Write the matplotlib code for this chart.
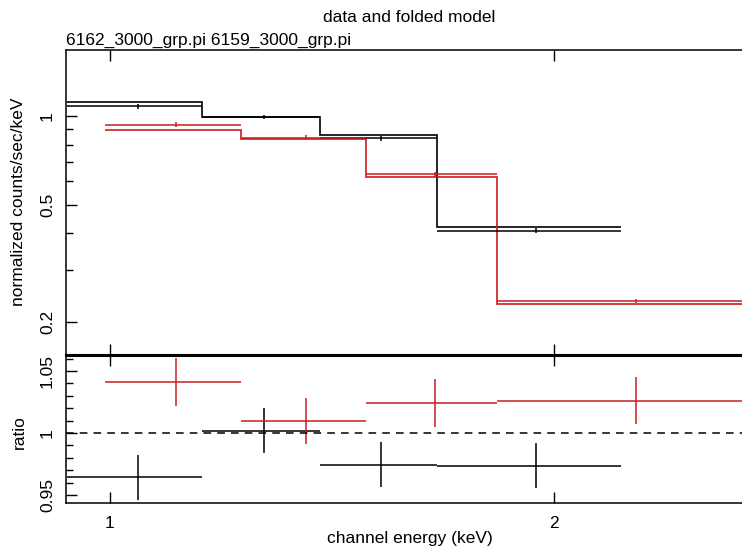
import numpy as np
import matplotlib
matplotlib.use("Agg")
import matplotlib.pyplot as plt
from matplotlib.ticker import FixedLocator, NullLocator, LogLocator, MultipleLocator, NullFormatter

plt.rcParams['font.family'] = ['Liberation Sans', 'DejaVu Sans']
plt.rcParams['font.size'] = 12.5

# bin edges (keV), model and data (counts/sec/keV), ratio errors
black_edges = [0.935, 1.154, 1.389, 1.665, 2.222]
black_model = [1.118, 0.990, 0.862, 0.419]
black_data = [1.078, 0.992, 0.840, 0.408]
black_rerr = [0.018, 0.0185, 0.018, 0.018]

red_edges = [0.992, 1.227, 1.491, 1.829, 2.717]
red_model = [0.898, 0.837, 0.619, 0.229]
red_data = [0.935, 0.845, 0.634, 0.235]
red_rerr = [0.019, 0.0185, 0.019, 0.019]

x_ticks = [1, 2]
top_yticks = [0.2, 0.5, 1]
top_ylabels = ['0.2', '0.5', '1']
rat_yticks = [0.95, 1.0, 1.05]
rat_ylabels = ['0.95', '1', '1.05']

RED = '#c81e1e'
W, H = 742, 549
fig = plt.figure(figsize=(W / 100, H / 100), dpi=100)

left, right = 66, 752
ax1 = fig.add_axes([left / W, (H - 355) / H, (right - left) / W, (355 - 50) / H])
ax2 = fig.add_axes([left / W, (H - 503) / H, (right - left) / W, (503 - 355) / H], sharex=ax1)

for edges, model, data, rerr, col in [(black_edges, black_model, black_data, black_rerr, 'black'),
                                      (red_edges, red_model, red_data, red_rerr, RED)]:
    e = np.array(edges)
    m = np.array(model)
    d = np.array(data)
    c = (e[:-1] + e[1:]) / 2
    hw = (e[1:] - e[:-1]) / 2
    ratio = d / m
    ax1.stairs(m, e, baseline=None, color=col, lw=1.2)
    ax1.errorbar(c, d, xerr=hw, yerr=np.array(rerr) * m, fmt='none', ecolor=col, elinewidth=1.1)
    ax2.errorbar(c, ratio, xerr=hw, yerr=rerr, fmt='none', ecolor=col, elinewidth=1.1)

ax2.axhline(1.0, color='black', ls=(0, (5, 4)), lw=1.1)

ax1.set_xscale('log')
ax1.set_xlim(0.934, 2.724)
ax1.set_yscale('log')
ax1.set_ylim(0.154, 1.677)
ax2.set_ylim(0.9435, 1.063)

for ax in (ax1, ax2):
    ax.xaxis.set_major_locator(FixedLocator(x_ticks))
    ax.xaxis.set_minor_locator(NullLocator())
    ax.tick_params(which='both', direction='in', top=True, right=False, width=1)
    ax.tick_params(which='major', length=8)
    ax.tick_params(which='minor', length=5)
    ax.tick_params(axis='y', labelrotation=90, pad=8)
    for s in ax.spines.values():
        s.set_linewidth(1.1)

ax1.tick_params(axis='x', labelbottom=False)
ax1.set_yticks(top_yticks)
ax1.set_yticklabels(top_ylabels)
ax1.yaxis.set_minor_locator(LogLocator(base=10, subs=np.arange(2, 10)))
ax1.yaxis.set_minor_formatter(NullFormatter())

ax2.set_xticklabels(['1', '2'])
ax2.tick_params(axis='x', pad=9)
ax2.set_yticks(rat_yticks)
ax2.set_yticklabels(rat_ylabels)
ax2.yaxis.set_minor_locator(MultipleLocator(0.01))

for ax in (ax1, ax2):
    for lab in ax.get_yticklabels():
        lab.set_va('center')

ax1.spines['bottom'].set_linewidth(2.2)
ax2.spines['top'].set_linewidth(2.2)

fig.text(409 / W, 1 - 18 / H, 'data and folded model', ha='center', va='center')
fig.text(left / W, 1 - 40 / H, '6162_3000_grp.pi 6159_3000_grp.pi', ha='left', va='center')
fig.text(19 / W, 1 - 202 / H, 'normalized counts/sec/keV', rotation=90, ha='center', va='center')
fig.text(19 / W, 1 - 432 / H, 'ratio', rotation=90, ha='center', va='center')
fig.text(410 / W, 1 - 538 / H, 'channel energy (keV)', ha='center', va='center')

fig.savefig('out.png', dpi=100)
